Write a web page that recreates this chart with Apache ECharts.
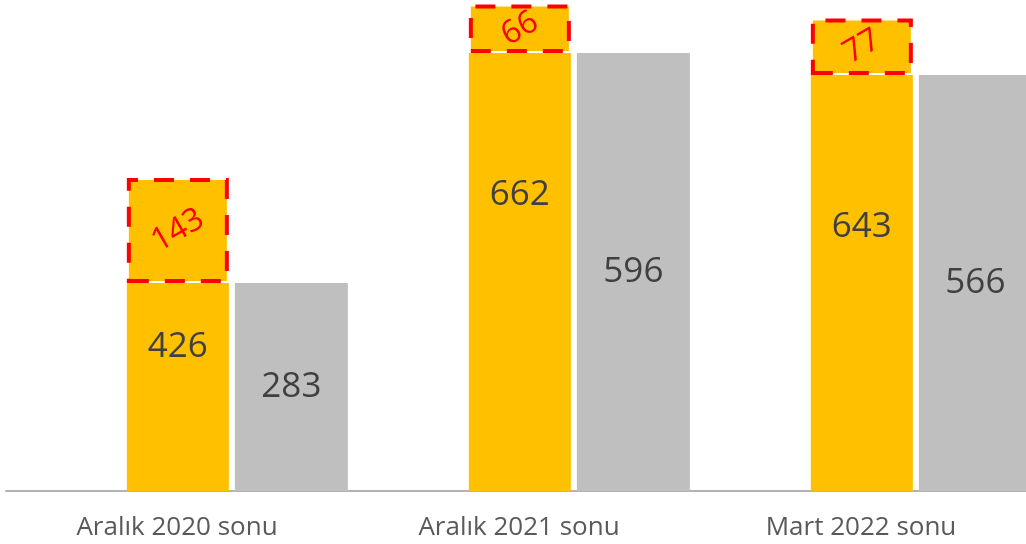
<!DOCTYPE html>
<html>
<head>
<meta charset="utf-8">
<style>
  html, body { margin: 0; padding: 0; background: #fff; }
  #chartBox { width: 1026px; height: 544px; }
</style>
<script src="https://cdn.jsdelivr.net/npm/echarts@6/dist/echarts.min.js"></script>
</head>
<body>
<div id="chartBox"></div>
<script>
// veriler
const categories = ['Aralık 2020 sonu', 'Aralık 2021 sonu', 'Mart 2022 sonu'];
const yellowValues = [426, 662, 643];
const greyValues = [283, 596, 566];
const gapValues = [143, 66, 77];

// sarı etiketlerin dikey kayması (px)
const yellowLabelShift = [-40, -77, -56];

let chart = echarts.init(document.getElementById('chartBox'));

let labelFont = {fontFamily: 'Open Sans', fontSize: 35, color: '#404040'};

let option = {
    animation: false,
    grid: {left: 6, top: 0, width: 1026, height: 491, outerBoundsMode: 'none', containLabel: false},
    xAxis: {
        type: 'category',
        data: categories,
        axisTick: {show: false},
        axisLine: {show: true, lineStyle: {color: '#b3b3b3', width: 2}},
        axisLabel: {fontFamily: 'Open Sans', fontSize: 26, color: '#595959', margin: 24}
    },
    yAxis: {type: 'value', min: 0, max: 668, show: false, splitLine: {show: false}},
    series: [
        {
            // boş sütun (Excel'deki gibi yer tutucu)
            type: 'bar', name: 'bos', barWidth: 114, barGap: '5.9%',
            data: categories.map(() => null)
        },
        {
            type: 'bar', name: 'sari', stack: 'sari', barWidth: 102, barGap: '5.9%',
            itemStyle: {color: '#FFC000'},
            data: greyValues.map((v, i) => ({
                value: v,
                label: {offset: [0, yellowLabelShift[i]]}
            })),
            label: Object.assign({
                show: true, position: 'inside',
                formatter: (p) => String(yellowValues[p.dataIndex])
            }, labelFont)
        },
        {
            type: 'bar', name: 'fark', stack: 'sari', barWidth: 102, barGap: '5.9%',
            itemStyle: {
                color: '#FFC000', borderColor: '#FF0000', borderWidth: 4,
                borderType: [20, 16], borderDashOffset: 0
            },
            data: gapValues,
            label: {
                show: true, position: 'inside', rotate: 30,
                fontFamily: 'Open Sans', fontSize: 32, color: '#FF0000'
            },
            z: 3
        },
        {
            type: 'bar', name: 'gri', barWidth: 113, barGap: '5.9%',
            itemStyle: {color: '#BFBFBF'},
            data: greyValues,
            label: Object.assign({show: true, position: 'inside'}, labelFont)
        }
    ]
};

chart.setOption(option, true);
</script>
</body>
</html>
